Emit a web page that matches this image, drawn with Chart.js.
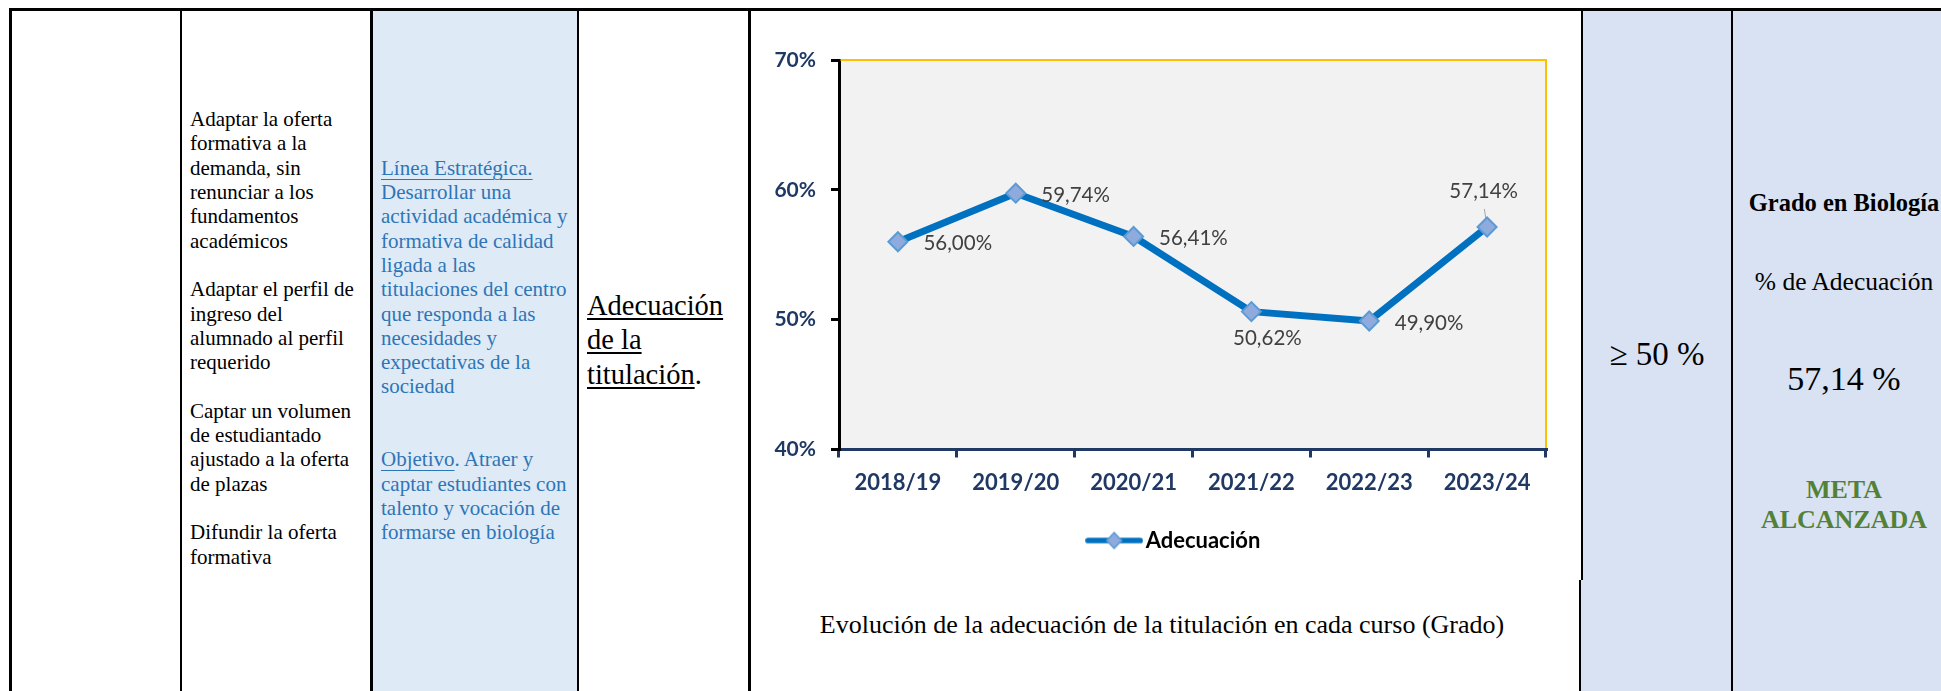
<!DOCTYPE html>
<html lang="es">
<head>
<meta charset="utf-8">
<title>Adecuación de la titulación</title>
<script src="https://cdn.jsdelivr.net/npm/chart.js@4.4.1/dist/chart.umd.min.js"></script>
<style>
html,body{margin:0;padding:0;background:#fff;}
body{width:1941px;height:691px;overflow:hidden;position:relative;font-family:"Liberation Serif","Times New Roman",serif;color:#000;}
.abs{position:absolute;}
.ln{position:absolute;background:#000;}
.txt{position:absolute;white-space:nowrap;}
.c2{left:190px;top:107.2px;font-size:21px;line-height:24.3px;}
.c3{left:381px;top:155.8px;font-size:21px;line-height:24.3px;color:#2E75B6;}
.c3 u{text-decoration-thickness:1.3px;text-underline-offset:4px;}
.c4{left:587px;top:289px;font-size:28.5px;line-height:34.3px;}
.c4 u{text-decoration-thickness:2.2px;text-underline-offset:2.5px;}
.ctr{text-align:center;}
#wrap{position:absolute;left:750px;top:12px;width:830px;height:568px;}
</style>
</head>
<body>
<!-- cell backgrounds -->
<div class="abs" style="left:372px;top:11px;width:205px;height:680px;background:#DEEAF6"></div>
<div class="abs" style="left:1583px;top:11px;width:148.5px;height:569px;background:#D9E2F3"></div>
<div class="abs" style="left:1580.5px;top:580px;width:151px;height:111px;background:#D9E2F3"></div>
<div class="abs" style="left:1733px;top:11px;width:208px;height:680px;background:#D9E2F3"></div>

<!-- table borders -->
<div class="ln" style="left:9px;top:8px;width:1932px;height:3px"></div>
<div class="ln" style="left:9px;top:8px;width:2.5px;height:683px"></div>
<div class="ln" style="left:180px;top:8px;width:2px;height:683px"></div>
<div class="ln" style="left:370px;top:8px;width:2.5px;height:683px"></div>
<div class="ln" style="left:577px;top:8px;width:2px;height:683px"></div>
<div class="ln" style="left:748px;top:8px;width:2.5px;height:683px"></div>
<div class="ln" style="left:1581px;top:8px;width:2px;height:572px"></div>
<div class="ln" style="left:1578.5px;top:580px;width:2px;height:111px"></div>
<div class="ln" style="left:1731.3px;top:8px;width:2px;height:683px"></div>

<!-- column 2 -->
<div class="txt c2">Adaptar la oferta<br>formativa a la<br>demanda, sin<br>renunciar a los<br>fundamentos<br>académicos<br>&nbsp;<br>Adaptar el perfil de<br>ingreso del<br>alumnado al perfil<br>requerido<br>&nbsp;<br>Captar un volumen<br>de estudiantado<br>ajustado a la oferta<br>de plazas<br>&nbsp;<br>Difundir la oferta<br>formativa</div>

<!-- column 3 -->
<div class="txt c3"><u>Línea Estratégica.</u><br>Desarrollar una<br>actividad académica y<br>formativa de calidad<br>ligada a las<br>titulaciones del centro<br>que responda a las<br>necesidades y<br>expectativas de la<br>sociedad<br>&nbsp;<br>&nbsp;<br><u>Objetivo</u>. Atraer y<br>captar estudiantes con<br>talento y vocación de<br>formarse en biología</div>

<!-- column 4 -->
<div class="txt c4"><u>Adecuación</u><br><u>de la</u><br><u>titulación</u>.</div>

<!-- chart -->
<div id="wrap"><canvas id="chart" width="830" height="568"></canvas></div>
<div class="txt ctr" style="left:762px;width:800px;top:611.5px;font-size:26px;line-height:26px;">Evolución de la adecuación de la titulación en cada curso (Grado)</div>

<!-- column 6 -->
<div class="txt ctr" style="left:1583px;width:148px;top:338px;font-size:33px;line-height:33px;">≥ 50 %</div>

<!-- column 7 -->
<div class="txt ctr" style="left:1733px;width:222px;top:191.2px;font-size:24.5px;line-height:24.5px;font-weight:bold;">Grado en Biología</div>
<div class="txt ctr" style="left:1733px;width:222px;top:269px;font-size:25.5px;line-height:25.5px;">% de Adecuación</div>
<div class="txt ctr" id="valorFinal" style="left:1733px;width:222px;top:361.5px;font-size:34px;line-height:34px;"></div>
<div class="txt ctr" style="left:1733px;width:222px;top:474.5px;font-size:26px;line-height:30.6px;font-weight:bold;color:#538135;">META<br>ALCANZADA</div>

<script>
// ---- data ----
const categories = ['2018/19', '2019/20', '2020/21', '2021/22', '2022/23', '2023/24'];
const adecuacion = [56.00, 59.74, 56.41, 50.62, 49.90, 57.14];
const yTickValues = [40, 50, 60, 70];
const seriesName = 'Adecuación';
// placement of each value label relative to its point
const labelPlacement = ['right', 'right', 'right', 'below', 'right', 'above'];

function fmt(v) { return v.toFixed(2).replace('.', ',') + '%'; }
document.getElementById('valorFinal').textContent =
  adecuacion[adecuacion.length - 1].toFixed(2).replace('.', ',') + ' %';

const NAVY = '#1F3864';
const LEGEND_CENTER_X = 427; // canvas px

function legendSymbol() {
  const c = document.createElement('canvas');
  c.width = 58; c.height = 20;
  const g = c.getContext('2d');
  g.strokeStyle = '#0070C0'; g.lineWidth = 5.7; g.lineCap = 'round';
  g.beginPath(); g.moveTo(3, 10); g.lineTo(55, 10); g.stroke();
  g.beginPath();
  g.moveTo(21.5, 10); g.lineTo(29, 2.2); g.lineTo(36.5, 10); g.lineTo(29, 17.8); g.closePath();
  g.fillStyle = '#8FAADC'; g.fill();
  g.strokeStyle = '#5B9BD5'; g.lineWidth = 1.5; g.stroke();
  return c;
}

const plotAreaPlugin = {
  id: 'plotArea',
  afterLayout(chart) {
    const L = chart.legend;
    if (L) {
      const w = L.right - L.left;
      L.left = LEGEND_CENTER_X - w / 2;
      L.right = L.left + w;
    }
  },
  beforeDraw(chart) {
    const a = chart.chartArea, ctx = chart.ctx;
    ctx.save();
    ctx.fillStyle = '#F2F2F2';
    ctx.fillRect(a.left, a.top, a.right - a.left, a.bottom - a.top);
    ctx.restore();
  },
  beforeDatasetsDraw(chart) {
    const a = chart.chartArea, ctx = chart.ctx;
    ctx.save();
    ctx.strokeStyle = '#FFC000';
    ctx.lineWidth = 2;
    ctx.beginPath();
    ctx.moveTo(a.left + 1.5, a.top);
    ctx.lineTo(a.right, a.top);
    ctx.lineTo(a.right, a.bottom - 1.5);
    ctx.stroke();
    // leader lines for labels above points
    const meta = chart.getDatasetMeta(0);
    ctx.strokeStyle = '#A6A6A6';
    ctx.lineWidth = 1;
    meta.data.forEach((pt, i) => {
      if (labelPlacement[i] === 'above') {
        ctx.beginPath();
        ctx.moveTo(pt.x - 2.7, pt.y - 18);
        ctx.lineTo(pt.x - 0.5, pt.y - 3);
        ctx.stroke();
      }
    });
    ctx.restore();
  }
};

const valueLabelPlugin = {
  id: 'valueLabels',
  afterDatasetsDraw(chart) {
    const meta = chart.getDatasetMeta(0);
    const data = chart.data.datasets[0].data;
    const ctx = chart.ctx;
    ctx.save();
    ctx.font = '400 20.5px Lato';
    ctx.fillStyle = '#404040';
    ctx.textBaseline = 'middle';
    meta.data.forEach((pt, i) => {
      const txt = fmt(data[i]);
      const p = labelPlacement[i];
      if (p === 'right') {
        ctx.textAlign = 'left';
        ctx.fillText(txt, pt.x + 25.5, pt.y + 2);
      } else if (p === 'below') {
        ctx.textAlign = 'center';
        ctx.fillText(txt, pt.x + 16, pt.y + 26.5);
      } else {
        ctx.textAlign = 'center';
        ctx.fillText(txt, pt.x - 3.4, pt.y - 36);
      }
    });
    ctx.restore();
  }
};

function build() {
  const symbol = legendSymbol();
  new Chart(document.getElementById('chart'), {
    type: 'line',
    data: {
      labels: categories,
      datasets: [{
        label: seriesName,
        data: adecuacion,
        borderColor: '#0070C0',
        borderWidth: 7,
        borderJoinStyle: 'round',
        borderCapStyle: 'round',
        tension: 0,
        fill: false,
        pointStyle: 'rectRot',
        pointRadius: 9.5,
        pointHoverRadius: 9.5,
        pointBackgroundColor: '#8FAADC',
        pointBorderColor: '#5B9BD5',
        pointBorderWidth: 2
      }]
    },
    options: {
      responsive: false,
      animation: false,
      devicePixelRatio: 1,
      layout: { padding: { left: 0, right: 34, top: 48, bottom: 18.5 } },
      plugins: {
        tooltip: { enabled: false },
        title: { display: false },
        legend: {
          display: true,
          position: 'bottom',
          align: 'center',
          labels: {
            usePointStyle: true,
            pointStyleWidth: 41,
            padding: 10,
            color: '#000',
            font: { family: 'Lato', size: 22, weight: '700' },
            generateLabels() {
              return [{
                text: seriesName,
                pointStyle: symbol,
                fillStyle: '#8FAADC',
                strokeStyle: '#0070C0',
                lineWidth: 0,
                hidden: false,
                datasetIndex: 0,
                fontColor: '#000'
              }];
            }
          }
        }
      },
      scales: {
        x: {
          type: 'category',
          offset: true,
          afterFit(scale) { scale.height = 70; },
          grid: {
            display: true,
            offset: true,
            drawOnChartArea: false,
            drawTicks: true,
            tickLength: 8,
            color: NAVY,
            lineWidth: 3
          },
          border: { display: true, color: NAVY, width: 3 },
          ticks: {
            color: NAVY,
            padding: 12,
            maxRotation: 0,
            autoSkip: false,
            font: { family: 'Lato', size: 22, weight: '700' }
          }
        },
        y: {
          type: 'linear',
          min: yTickValues[0],
          max: yTickValues[yTickValues.length - 1],
          afterFit(scale) { scale.width = 89; },
          afterBuildTicks(scale) { scale.ticks = yTickValues.map(v => ({ value: v })); },
          grid: {
            display: true,
            drawOnChartArea: false,
            drawTicks: true,
            tickLength: 8,
            color: '#000',
            lineWidth: 3
          },
          border: { display: true, color: '#000', width: 3 },
          ticks: {
            color: NAVY,
            padding: 15,
            font: { family: 'Lato', size: 21, weight: '700' },
            callback: v => v + '%'
          }
        }
      }
    },
    plugins: [plotAreaPlugin, valueLabelPlugin]
  });
}

if (document.fonts && document.fonts.load) {
  Promise.all([
    document.fonts.load('700 22px Lato'),
    document.fonts.load('400 20px Lato')
  ]).then(build, build);
} else {
  build();
}
</script>
</body>
</html>
